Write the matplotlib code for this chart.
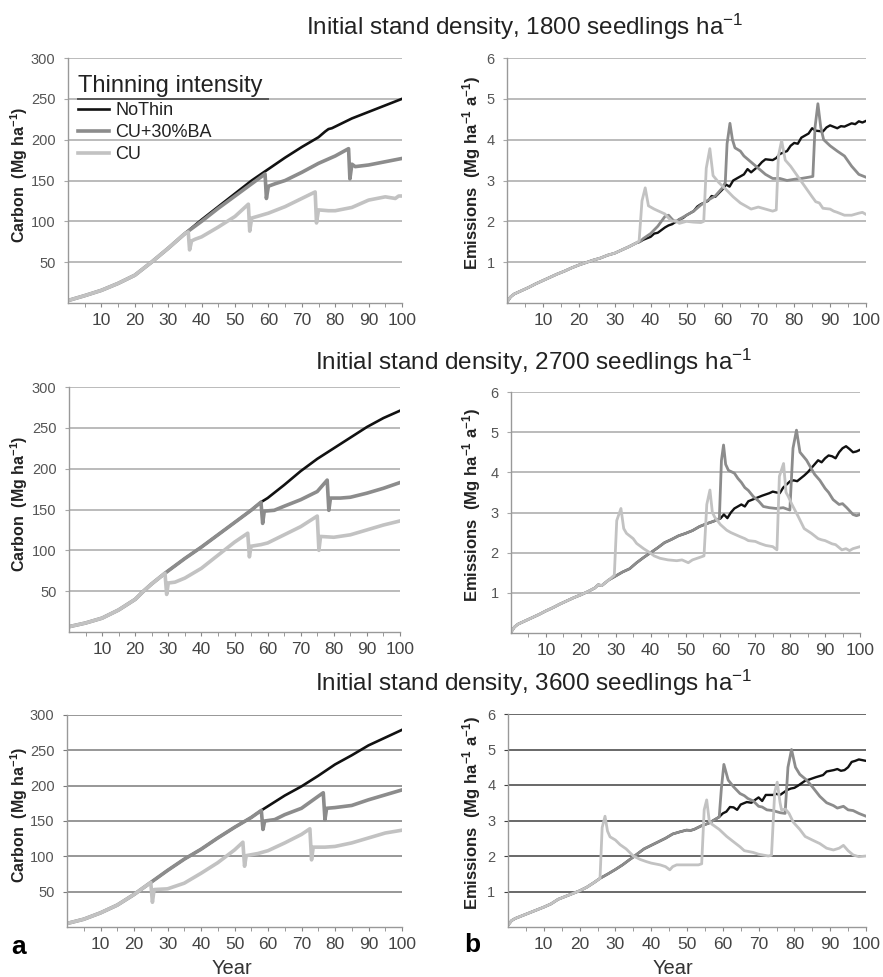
import matplotlib
matplotlib.use("Agg")
import matplotlib.pyplot as plt
from matplotlib.lines import Line2D

plt.rcParams["font.family"] = ["Liberation Sans", "DejaVu Sans"]
plt.rcParams["mathtext.fontset"] = "custom"
plt.rcParams["mathtext.rm"] = "Liberation Sans"
plt.rcParams["mathtext.bf"] = "Liberation Sans:bold"
plt.rcParams["mathtext.default"] = "regular"

# ---- carbon stock (Mg ha-1), panel a ----------------------------------
A1_X = [0, 5, 10, 15, 20, 25, 30, 35, 40, 45, 50, 55, 60, 65, 70, 75, 77, 78, 79, 80, 85, 90, 95, 100]
A1_NOTHIN = [3, 9, 15.5, 24, 34, 50, 67, 85, 102, 118, 134, 150, 164, 178, 191, 203, 210, 213, 214, 216, 226, 234, 242, 250]
A1_BA_X = [40, 45, 50, 55, 59, 59.4, 60, 62, 65, 70, 75, 80, 84, 84.4, 85, 86, 90, 95, 100]
A1_BA = [100, 116, 131, 146, 158, 128, 143, 146, 150, 160, 171, 180, 189, 152, 170, 167, 169, 173, 177]
A1_CU_X = [36, 36.4, 37, 38, 40, 45, 50, 54, 54.4, 55, 60, 65, 70, 74, 74.4, 75, 78, 80, 85, 90, 95, 98, 99, 100]
A1_CU = [87, 65, 76, 78, 81, 93, 106, 121, 88, 104, 110, 118, 128, 136, 98, 114, 113, 113, 117, 126, 130, 128, 131, 131]

A2_X = [0, 5, 10, 15, 20, 22.5, 25, 29, 30, 35, 40, 45, 50, 55, 58, 60, 65, 70, 75, 80, 85, 90, 95, 100]
A2_NOTHIN = [6.5, 11, 17, 27, 40, 50, 59, 72, 75, 90, 104, 119, 134, 149, 159, 164, 180, 197, 212, 225, 238, 251, 262, 271]
A2_BA_X = [58.5, 59, 62, 65, 70, 75, 78, 78.5, 79, 82, 85, 90, 95, 100]
A2_BA = [133, 148, 149, 154, 162, 172, 186, 149, 164, 164, 165, 170, 176, 183]
A2_CU_X = [29.5, 30, 32, 35, 40, 45, 50, 54, 54.5, 55, 58, 60, 65, 70, 75, 75.5, 76, 80, 85, 90, 95, 100]
A2_CU = [46, 60, 61, 66, 78, 94, 110, 121, 92, 105, 107, 109, 119, 129, 142, 100, 117, 116, 119, 125, 131, 136]

A3_X = [0, 5, 10, 15, 20, 25, 30, 35, 40, 45, 50, 55, 58, 60, 65, 70, 75, 80, 85, 90, 95, 100]
A3_NOTHIN = [5, 11, 20, 31, 46, 63, 80, 96, 110, 126, 141, 155, 165, 171, 186, 199, 214, 230, 243, 257, 268, 279]
A3_BA_X = [58.5, 59, 62, 65, 70, 75, 76.5, 77, 77.5, 80, 85, 90, 95, 100]
A3_BA = [138, 150, 152, 159, 168, 185, 190, 152, 168, 169, 172, 180, 187, 194]
A3_CU_X = [25.5, 26, 30, 35, 40, 45, 50, 52.5, 53, 53.5, 57, 60, 65, 70, 72.5, 73, 73.5, 77, 80, 85, 90, 95, 100]
A3_CU = [35, 53, 54, 62, 76, 91, 109, 120, 86, 101, 104, 108, 119, 131, 139, 95, 113, 113, 114, 119, 126, 133, 137]

# ---- emissions (Mg ha-1 a-1), panel b ---------------------------------
B1_X = [0, 1, 2, 4, 6, 8, 10, 12, 14, 16, 18, 20, 22, 24, 26, 28, 30, 32, 34, 36, 37, 38, 40, 41, 42,
        44, 45, 46, 48, 49, 50, 52, 53, 54, 56, 57, 58, 60, 61, 62, 63, 64, 66, 67, 68, 70, 71, 72, 74,
        75, 76, 78, 79, 80, 81, 82, 84, 85, 86, 88, 89, 90, 92, 93, 94, 96, 97, 98, 99, 100]
B1_NOTHIN = [0.02, 0.15, 0.22, 0.30, 0.38, 0.47, 0.55, 0.63, 0.71, 0.78, 0.86, 0.93, 0.99, 1.05, 1.1,
             1.17, 1.22, 1.3, 1.38, 1.47, 1.5, 1.55, 1.62, 1.7, 1.72, 1.85, 1.9, 1.93, 2.05, 2.08, 2.15,
             2.25, 2.36, 2.42, 2.5, 2.62, 2.6, 2.78, 2.9, 2.85, 3.0, 3.05, 3.15, 3.28, 3.2, 3.35, 3.45,
             3.52, 3.5, 3.55, 3.65, 3.72, 3.85, 3.92, 3.9, 4.05, 4.15, 4.28, 4.22, 4.2, 4.3, 4.35, 4.28,
             4.33, 4.32, 4.4, 4.38, 4.45, 4.42, 4.46]
B1_BA_X = [38, 40, 42, 43, 44, 45, 46, 47, 48, 50, 52, 54, 56, 58, 60, 60.8, 61.3, 62.1, 62.8, 63.5,
           65, 66, 68, 70, 72, 74, 76, 78, 80, 82, 84, 85.2, 85.8, 86.6, 87.4, 88.2, 90, 92, 94, 96, 98, 100]
B1_BA = [1.58, 1.7, 1.88, 2.0, 2.12, 2.15, 2.05, 1.98, 2.05, 2.15, 2.25, 2.4, 2.52, 2.62, 2.82, 2.95,
         3.9, 4.4, 4.0, 3.8, 3.72, 3.6, 3.45, 3.3, 3.15, 3.05, 3.05, 3.0, 3.03, 3.05, 3.08, 3.1, 4.3,
         4.88, 4.3, 4.0, 3.85, 3.72, 3.6, 3.35, 3.15, 3.08]
B1_CU_X = [36.8, 37.6, 38.5, 39.4, 41, 43, 44, 45, 46, 47, 48, 50, 52, 54, 54.8, 55.5, 56.5, 57.4,
           59, 61, 63, 65, 67, 68, 70, 72, 74, 75, 75.6, 76.5, 77.5, 79, 81, 83, 85, 86, 87, 88, 90,
           91, 92, 94, 96, 98, 99, 100]
B1_CU = [1.52, 2.5, 2.82, 2.38, 2.3, 2.22, 2.18, 2.08, 2.0, 2.02, 1.95, 2.0, 1.98, 1.97, 2.0, 3.3,
         3.78, 3.12, 2.95, 2.78, 2.6, 2.45, 2.35, 2.3, 2.35, 2.3, 2.25, 2.28, 3.6, 3.98, 3.5, 3.35, 3.1,
         2.85, 2.6, 2.48, 2.45, 2.32, 2.3, 2.25, 2.22, 2.15, 2.15, 2.2, 2.22, 2.17]

B2_X = [0, 1, 2, 4, 6, 8, 10, 12, 14, 16, 18, 20, 22, 24, 25, 26, 28, 30, 32, 34, 36, 38, 40, 42,
        44, 46, 48, 50, 52, 54, 56, 58, 60, 61, 62, 63, 64, 66, 67, 68, 70, 72, 74, 75, 76, 77, 78,
        80, 81, 82, 84, 85, 86, 87, 88, 89, 90, 91, 92, 93, 94, 95, 96, 97, 98, 99, 100]
B2_NOTHIN = [0.02, 0.15, 0.22, 0.3, 0.38, 0.46, 0.55, 0.63, 0.72, 0.8, 0.88, 0.95, 1.03, 1.12, 1.2,
             1.18, 1.32, 1.42, 1.52, 1.6, 1.75, 1.88, 2.0, 2.12, 2.25, 2.33, 2.42, 2.48, 2.55, 2.65,
             2.72, 2.78, 2.85, 2.95, 2.86, 3.0, 3.1, 3.2, 3.15, 3.28, 3.35, 3.42, 3.48, 3.52, 3.5,
             3.48, 3.62, 3.78, 3.8, 3.78, 3.92, 4.0, 4.1, 4.2, 4.3, 4.25, 4.35, 4.42, 4.4, 4.35, 4.5,
             4.6, 4.65, 4.58, 4.5, 4.52, 4.56]
B2_BA_X = [59, 59.7, 60.3, 60.9, 61.5, 62.3, 64, 65, 66, 67, 68, 69.4, 71, 72.3, 74, 76, 78, 79.9,
           80.8, 81.8, 82.8, 84.7, 86, 87, 88.5, 90, 91, 92.3, 94, 95, 96.2, 98, 99, 100]
B2_BA = [2.82, 2.85, 4.3, 4.68, 4.2, 4.05, 3.98, 3.85, 3.75, 3.62, 3.55, 3.4, 3.28, 3.15, 3.12, 3.1,
         3.12, 3.06, 4.6, 5.05, 4.5, 4.3, 4.1, 3.95, 3.8, 3.6, 3.5, 3.32, 3.2, 3.22, 3.12, 2.95, 2.92, 2.95]
B2_CU_X = [29.6, 30.3, 31.5, 32.3, 33.1, 35, 36, 38, 39.8, 41, 42.7, 45, 47.5, 49, 50.8, 52, 54,
           55.3, 56.1, 57, 57.7, 58.4, 60, 61.8, 63, 65.6, 67, 68, 70, 71.3, 73, 75, 76.2, 76.9, 78.1,
           78.8, 79.5, 80.5, 82.3, 84, 86.1, 88, 89, 90, 92, 93, 94.8, 96, 97, 98, 100]
B2_CU = [1.44, 2.8, 3.1, 2.6, 2.48, 2.35, 2.23, 2.1, 2.0, 1.92, 1.86, 1.82, 1.8, 1.82, 1.75, 1.82,
         1.88, 1.92, 3.2, 3.56, 3.0, 2.88, 2.7, 2.56, 2.5, 2.4, 2.35, 2.3, 2.28, 2.23, 2.18, 2.15, 2.07,
         3.9, 4.22, 3.5, 3.39, 3.2, 2.9, 2.6, 2.48, 2.35, 2.32, 2.3, 2.22, 2.2, 2.07, 2.1, 2.05, 2.1, 2.15]

B3_X = [0, 1, 2, 4, 6, 8, 10, 12, 14, 16, 18, 20, 22, 24, 25.7, 28, 30, 32, 34, 35, 36, 38, 40, 42,
        44, 46, 48, 49.9, 51, 52, 54, 56, 57, 59, 60, 61, 62, 63, 64, 65, 66.7, 68, 69, 70, 71, 72,
        74, 75, 76, 78, 79, 80, 81, 82, 83, 84, 86, 87, 88, 89, 90, 91, 92, 93, 94, 95, 96, 97, 98, 99, 100]
B3_NOTHIN = [0.05, 0.18, 0.24, 0.32, 0.4, 0.48, 0.56, 0.65, 0.78, 0.86, 0.94, 1.02, 1.12, 1.25, 1.37,
             1.5, 1.62, 1.75, 1.9, 1.97, 2.05, 2.2, 2.3, 2.4, 2.5, 2.62, 2.68, 2.73, 2.72, 2.75, 2.85,
             2.92, 2.98, 3.1, 3.2, 3.25, 3.38, 3.37, 3.3, 3.45, 3.52, 3.5, 3.58, 3.65, 3.55, 3.72, 3.72,
             3.75, 3.72, 3.86, 3.9, 3.92, 3.98, 4.05, 4.12, 4.15, 4.22, 4.25, 4.28, 4.38, 4.4, 4.42,
             4.45, 4.4, 4.42, 4.5, 4.65, 4.68, 4.72, 4.7, 4.68]
B3_BA_X = [59.6, 60.3, 61.5, 63, 64.8, 66, 67, 68.5, 70, 71, 72.3, 74, 76, 77.4, 78.2, 79.2, 80.3,
           81.5, 83.4, 85, 87.1, 89, 90.9, 92, 93.7, 95, 96.4, 98, 100]
B3_BA = [3.9, 4.58, 4.14, 3.95, 3.76, 3.7, 3.62, 3.55, 3.4, 3.38, 3.3, 3.28, 3.22, 3.2, 4.5, 5.0, 4.5,
         4.3, 4.14, 3.95, 3.68, 3.5, 3.42, 3.35, 3.4, 3.3, 3.28, 3.2, 3.12]
B3_CU_X = [25.7, 26.3, 27.1, 27.8, 28.5, 30, 31.3, 33, 35, 37, 38.7, 40, 42.5, 44, 45.2, 46, 47.1,
           50, 53.2, 54.1, 54.8, 55.5, 56.2, 56.9, 59, 61.1, 63, 64.8, 66, 68.5, 70, 72.7, 73.6, 74.5,
           75.2, 76, 76.4, 77.5, 78.5, 79.7, 81.5, 83, 85, 87.1, 89, 90.9, 92.5, 93.7, 95, 96.4, 98, 100]
B3_CU = [1.37, 2.8, 3.12, 2.7, 2.54, 2.45, 2.32, 2.2, 2.0, 1.9, 1.84, 1.8, 1.75, 1.7, 1.61, 1.7,
         1.75, 1.75, 1.75, 1.78, 3.3, 3.58, 3.0, 2.9, 2.75, 2.55, 2.4, 2.26, 2.15, 2.1, 2.05, 2.0, 2.02,
         3.8, 4.08, 3.5, 3.3, 3.32, 3.2, 2.95, 2.75, 2.55, 2.45, 2.35, 2.22, 2.17, 2.22, 2.3, 2.15,
         2.03, 1.98, 2.0]

# year up to which each thinned scenario follows NoThin
CUT_A = [(35, 36), (58, 29), (58, 25)]
CUT_B = [(37, 36), (58, 28), (59, 24)]

LABELS = ["NoThin", "CU+30%BA", "CU"]
COLORS = ["#111111", "#8c8c8c", "#c2c2c2"]
DENSITY = [1800, 2700, 3600]

W, H = 883, 977


def with_base(bx, by, cut, tx, ty):
    head = [(a, b) for a, b in zip(bx, by) if a <= cut]
    return [a for a, _ in head] + tx, [b for _, b in head] + ty


def add_ax(fig, l, r, t, b):
    return fig.add_axes([l / W, 1 - b / H, (r - l) / W, (b - t) / H])


def style(ax, ymax, ystep, gcolor):
    for s in ("top", "right"):
        ax.spines[s].set_visible(False)
    for s in ("left", "bottom"):
        ax.spines[s].set_color("#999999")
        ax.spines[s].set_linewidth(1.0)
    ax.set_xlim(0, 100)
    ax.set_ylim(0, ymax)
    ax.set_xticks(range(10, 101, 10))
    ax.set_xticks(range(5, 100, 10), minor=True)
    yt = [ystep * k for k in range(1, int(round(ymax / ystep)) + 1)]
    ax.set_yticks(yt)
    ax.set_yticklabels([f"{v:g}" for v in yt])
    ax.tick_params(axis="x", which="both", direction="out", length=3, color="#888888",
                   labelsize=12.5, labelcolor="#444444", pad=4)
    ax.tick_params(axis="y", direction="out", length=3, color=gcolor,
                   labelsize=10.5, labelcolor="#555555", pad=6)
    ax.grid(axis="y", color=gcolor, lw=1.1)
    ax.set_axisbelow(True)


fig = plt.figure(figsize=(W / 100, H / 100), dpi=100)
fig.patch.set_facecolor("white")

carbon = [
    (A1_X, A1_NOTHIN, A1_BA_X, A1_BA, A1_CU_X, A1_CU),
    (A2_X, A2_NOTHIN, A2_BA_X, A2_BA, A2_CU_X, A2_CU),
    (A3_X, A3_NOTHIN, A3_BA_X, A3_BA, A3_CU_X, A3_CU),
]
emis = [
    (B1_X, B1_NOTHIN, B1_BA_X, B1_BA, B1_CU_X, B1_CU),
    (B2_X, B2_NOTHIN, B2_BA_X, B2_BA, B2_CU_X, B2_CU),
    (B3_X, B3_NOTHIN, B3_BA_X, B3_BA, B3_CU_X, B3_CU),
]

# pixel boxes (left, right, top, bottom)
boxes_a = [(68, 402, 58, 303), (69, 400, 387, 632), (67, 402, 715, 927)]
boxes_b = [(507, 866, 58, 303), (511, 860, 392, 633), (508, 866, 714, 927)]
grid_a = ["#a8a8a8", "#a8a8a8", "#7a7a7a"]
grid_b = ["#a8a8a8", "#a8a8a8", "#404040"]
title_pos = [(306, 27), (315, 362), (315, 683)]

for i in range(3):
    ax = add_ax(fig, *boxes_a[i])
    style(ax, 300, 50, grid_a[i])
    bx, by, ax_, ay_, cx, cy = carbon[i]
    cut_ba, cut_cu = CUT_A[i]
    ba = with_base(bx, by, cut_ba, ax_, ay_)
    cu = with_base(bx, by, cut_cu, cx, cy)
    l0, = ax.plot(bx, by, color=COLORS[0], lw=1.9)
    l1, = ax.plot(*ba, color=COLORS[1], lw=2.6)
    l2, = ax.plot(*cu, color=COLORS[2], lw=2.6)
    if i == 0:
        leg = ax.legend([l0, l1, l2], LABELS, title="Thinning intensity", loc="upper left",
                        bbox_to_anchor=(78 / W, 1 - 75 / H), bbox_transform=fig.transFigure,
                        frameon=False, fontsize=13, title_fontsize=17, handlelength=1.7,
                        handletextpad=0.35, labelspacing=0.28, borderpad=0, borderaxespad=0,
                        alignment="left")
        leg.get_title().set_color("#222222")
        for t in leg.get_texts():
            t.set_color("#222222")
        fig.add_artist(Line2D([78 / W, 268 / W], [1 - 99 / H, 1 - 99 / H],
                              color="#555555", lw=1.4))
    l, r, t, b = boxes_a[i]
    fig.text(19 / W, 1 - ((t + b) / 2 - 6) / H, "Carbon  (Mg ha$^{-1}$)", rotation=90,
             ha="center", va="center", fontsize=11.5, fontweight="bold", color="#222222")

    ax = add_ax(fig, *boxes_b[i])
    style(ax, 6, 1, grid_b[i])
    bx, by, ax_, ay_, cx, cy = emis[i]
    cut_ba, cut_cu = CUT_B[i]
    ba = with_base(bx, by, cut_ba, ax_, ay_)
    cu = with_base(bx, by, cut_cu, cx, cy)
    ax.plot(bx, by, color=COLORS[0], lw=1.7)
    ax.plot(*ba, color=COLORS[1], lw=2.0)
    ax.plot(*cu, color=COLORS[2], lw=2.0)
    l, r, t, b = boxes_b[i]
    fig.text(472 / W, 1 - ((t + b) / 2 - 8) / H, "Emissions  (Mg ha$^{-1}$ a$^{-1}$)", rotation=90,
             ha="center", va="center", fontsize=12, fontweight="bold", color="#222222")

    tx, ty = title_pos[i]
    fig.text(tx / W, 1 - ty / H, f"Initial stand density, {DENSITY[i]} seedlings ha$^{{-1}}$",
             ha="left", va="center", fontsize=17.5, color="#222222")

fig.text(232 / W, 1 - 968 / H, "Year", ha="center", va="center", fontsize=14.5, color="#333333")
fig.text(673 / W, 1 - 968 / H, "Year", ha="center", va="center", fontsize=14.5, color="#333333")
fig.text(19 / W, 1 - 947 / H, "a", ha="center", va="center", fontsize=19, fontweight="bold")
fig.text(472 / W, 1 - 945 / H, "b", ha="center", va="center", fontsize=19, fontweight="bold")

fig.savefig("out.png", dpi=100, facecolor="white")
